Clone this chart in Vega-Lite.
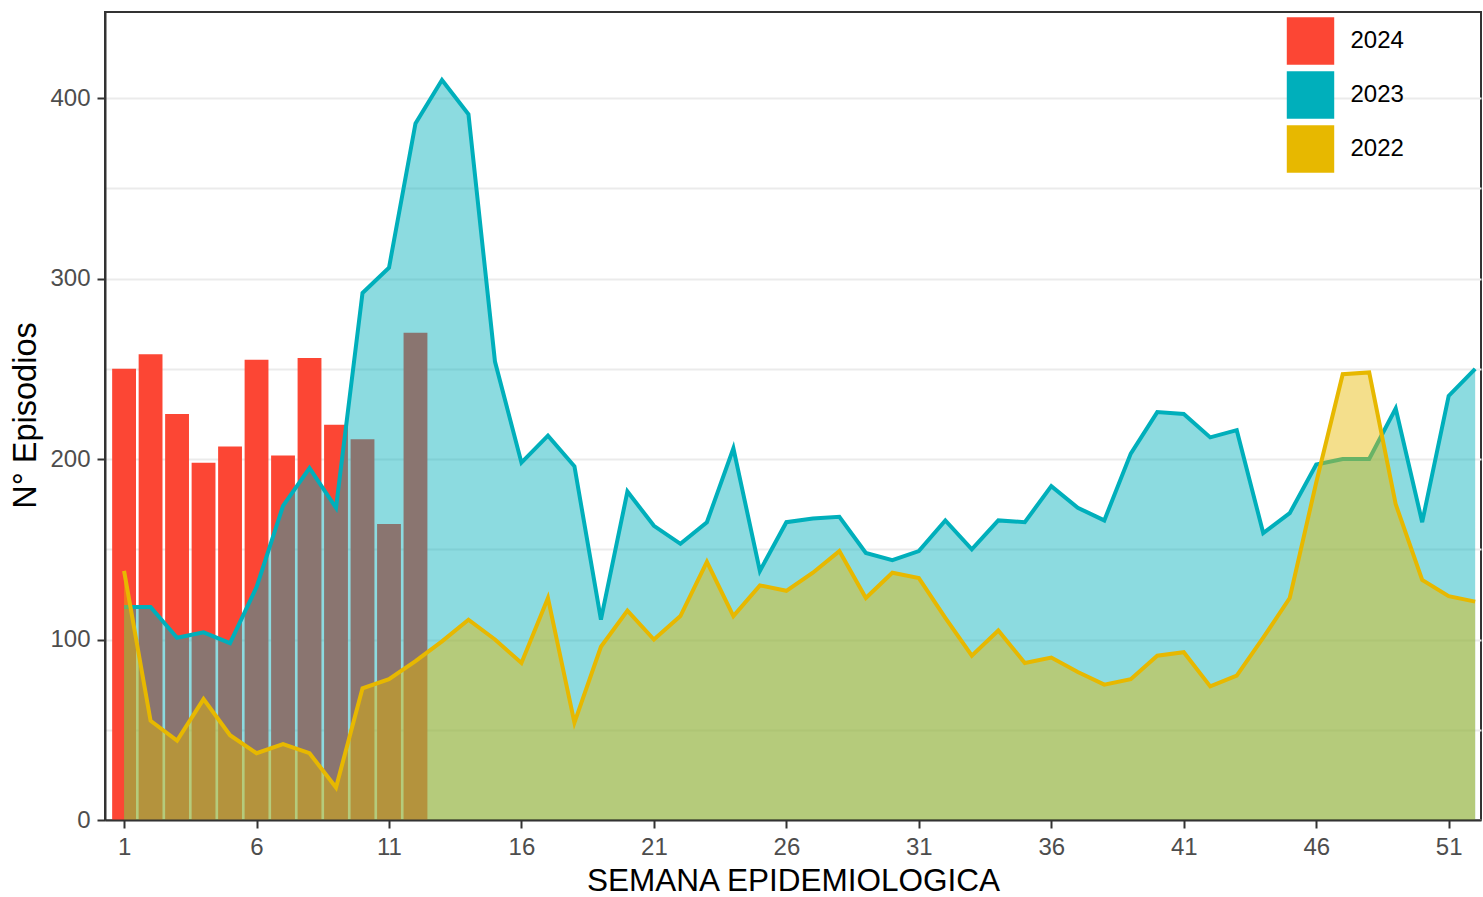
{
  "$schema": "https://vega.github.io/schema/vega-lite/v6.json",
  "width": 1376,
  "height": 808,
  "autosize": {"type": "none"},
  "padding": {"left": 105, "top": 12, "right": 2, "bottom": 77},
  "background": "white",
  "config": {
    "font": "Liberation Sans",
    "view": {"stroke": "#333333", "strokeWidth": 2},
    "axis": {
      "domainColor": "#333333", "domainWidth": 2,
      "tickColor": "#333333", "tickWidth": 2, "tickSize": 8,
      "labelFont": "Liberation Sans", "labelFontSize": 24, "labelColor": "#4D4D4D",
      "titleFont": "Liberation Sans", "titleFontSize": 31.5, "titleColor": "#000000", "titleFontWeight": "normal",
      "grid": false, "labelOverlap": false, "labelFlush": false
    },
    "legend": {
      "padding": 0,
      "symbolType": "square", "symbolSize": 2250, "symbolStrokeWidth": 0, "symbolOpacity": 1,
      "rowPadding": 6, "labelOffset": 16, "labelFont": "Liberation Sans", "labelFontSize": 24, "labelColor": "#000000"
    }
  },
  "data": {"values": [
    {"semana": 1, "anio": "2024", "episodios": 250},
    {"semana": 2, "anio": "2024", "episodios": 258},
    {"semana": 3, "anio": "2024", "episodios": 225},
    {"semana": 4, "anio": "2024", "episodios": 198},
    {"semana": 5, "anio": "2024", "episodios": 207},
    {"semana": 6, "anio": "2024", "episodios": 255},
    {"semana": 7, "anio": "2024", "episodios": 202},
    {"semana": 8, "anio": "2024", "episodios": 256},
    {"semana": 9, "anio": "2024", "episodios": 219},
    {"semana": 10, "anio": "2024", "episodios": 211},
    {"semana": 11, "anio": "2024", "episodios": 164},
    {"semana": 12, "anio": "2024", "episodios": 270},
    {"semana": 1, "anio": "2023", "episodios": 118},
    {"semana": 2, "anio": "2023", "episodios": 118},
    {"semana": 3, "anio": "2023", "episodios": 101},
    {"semana": 4, "anio": "2023", "episodios": 104},
    {"semana": 5, "anio": "2023", "episodios": 98},
    {"semana": 6, "anio": "2023", "episodios": 129},
    {"semana": 7, "anio": "2023", "episodios": 174},
    {"semana": 8, "anio": "2023", "episodios": 195},
    {"semana": 9, "anio": "2023", "episodios": 173},
    {"semana": 10, "anio": "2023", "episodios": 292},
    {"semana": 11, "anio": "2023", "episodios": 306},
    {"semana": 12, "anio": "2023", "episodios": 386},
    {"semana": 13, "anio": "2023", "episodios": 410},
    {"semana": 14, "anio": "2023", "episodios": 391},
    {"semana": 15, "anio": "2023", "episodios": 254},
    {"semana": 16, "anio": "2023", "episodios": 198},
    {"semana": 17, "anio": "2023", "episodios": 213},
    {"semana": 18, "anio": "2023", "episodios": 196},
    {"semana": 19, "anio": "2023", "episodios": 111},
    {"semana": 20, "anio": "2023", "episodios": 182},
    {"semana": 21, "anio": "2023", "episodios": 163},
    {"semana": 22, "anio": "2023", "episodios": 153},
    {"semana": 23, "anio": "2023", "episodios": 165},
    {"semana": 24, "anio": "2023", "episodios": 206},
    {"semana": 25, "anio": "2023", "episodios": 138},
    {"semana": 26, "anio": "2023", "episodios": 165},
    {"semana": 27, "anio": "2023", "episodios": 167},
    {"semana": 28, "anio": "2023", "episodios": 168},
    {"semana": 29, "anio": "2023", "episodios": 148},
    {"semana": 30, "anio": "2023", "episodios": 144},
    {"semana": 31, "anio": "2023", "episodios": 149},
    {"semana": 32, "anio": "2023", "episodios": 166},
    {"semana": 33, "anio": "2023", "episodios": 150},
    {"semana": 34, "anio": "2023", "episodios": 166},
    {"semana": 35, "anio": "2023", "episodios": 165},
    {"semana": 36, "anio": "2023", "episodios": 185},
    {"semana": 37, "anio": "2023", "episodios": 173},
    {"semana": 38, "anio": "2023", "episodios": 166},
    {"semana": 39, "anio": "2023", "episodios": 203},
    {"semana": 40, "anio": "2023", "episodios": 226},
    {"semana": 41, "anio": "2023", "episodios": 225},
    {"semana": 42, "anio": "2023", "episodios": 212},
    {"semana": 43, "anio": "2023", "episodios": 216},
    {"semana": 44, "anio": "2023", "episodios": 159},
    {"semana": 45, "anio": "2023", "episodios": 170},
    {"semana": 46, "anio": "2023", "episodios": 197},
    {"semana": 47, "anio": "2023", "episodios": 200},
    {"semana": 48, "anio": "2023", "episodios": 200},
    {"semana": 49, "anio": "2023", "episodios": 228},
    {"semana": 50, "anio": "2023", "episodios": 165},
    {"semana": 51, "anio": "2023", "episodios": 235},
    {"semana": 52, "anio": "2023", "episodios": 250},
    {"semana": 1, "anio": "2022", "episodios": 138},
    {"semana": 2, "anio": "2022", "episodios": 55},
    {"semana": 3, "anio": "2022", "episodios": 44},
    {"semana": 4, "anio": "2022", "episodios": 67},
    {"semana": 5, "anio": "2022", "episodios": 47},
    {"semana": 6, "anio": "2022", "episodios": 37},
    {"semana": 7, "anio": "2022", "episodios": 42},
    {"semana": 8, "anio": "2022", "episodios": 37},
    {"semana": 9, "anio": "2022", "episodios": 18},
    {"semana": 10, "anio": "2022", "episodios": 73},
    {"semana": 11, "anio": "2022", "episodios": 78},
    {"semana": 12, "anio": "2022", "episodios": 88},
    {"semana": 13, "anio": "2022", "episodios": 99},
    {"semana": 14, "anio": "2022", "episodios": 111},
    {"semana": 15, "anio": "2022", "episodios": 100},
    {"semana": 16, "anio": "2022", "episodios": 87},
    {"semana": 17, "anio": "2022", "episodios": 123},
    {"semana": 18, "anio": "2022", "episodios": 54},
    {"semana": 19, "anio": "2022", "episodios": 96},
    {"semana": 20, "anio": "2022", "episodios": 116},
    {"semana": 21, "anio": "2022", "episodios": 100},
    {"semana": 22, "anio": "2022", "episodios": 113},
    {"semana": 23, "anio": "2022", "episodios": 143},
    {"semana": 24, "anio": "2022", "episodios": 113},
    {"semana": 25, "anio": "2022", "episodios": 130},
    {"semana": 26, "anio": "2022", "episodios": 127},
    {"semana": 27, "anio": "2022", "episodios": 137},
    {"semana": 28, "anio": "2022", "episodios": 149},
    {"semana": 29, "anio": "2022", "episodios": 123},
    {"semana": 30, "anio": "2022", "episodios": 137},
    {"semana": 31, "anio": "2022", "episodios": 134},
    {"semana": 32, "anio": "2022", "episodios": 112},
    {"semana": 33, "anio": "2022", "episodios": 91},
    {"semana": 34, "anio": "2022", "episodios": 105},
    {"semana": 35, "anio": "2022", "episodios": 87},
    {"semana": 36, "anio": "2022", "episodios": 90},
    {"semana": 37, "anio": "2022", "episodios": 82},
    {"semana": 38, "anio": "2022", "episodios": 75},
    {"semana": 39, "anio": "2022", "episodios": 78},
    {"semana": 40, "anio": "2022", "episodios": 91},
    {"semana": 41, "anio": "2022", "episodios": 93},
    {"semana": 42, "anio": "2022", "episodios": 74},
    {"semana": 43, "anio": "2022", "episodios": 80},
    {"semana": 44, "anio": "2022", "episodios": 101},
    {"semana": 45, "anio": "2022", "episodios": 123},
    {"semana": 46, "anio": "2022", "episodios": 187},
    {"semana": 47, "anio": "2022", "episodios": 247},
    {"semana": 48, "anio": "2022", "episodios": 248},
    {"semana": 49, "anio": "2022", "episodios": 175},
    {"semana": 50, "anio": "2022", "episodios": 133},
    {"semana": 51, "anio": "2022", "episodios": 124},
    {"semana": 52, "anio": "2022", "episodios": 121}
  ]},
  "encoding": {
    "x": {"field": "semana", "type": "quantitative", "scale": {"domain": [0.28, 52.22], "nice": false, "zero": false, "padding": 0}, "axis": null},
    "y": {"field": "episodios", "type": "quantitative", "scale": {"domain": [0, 447.7], "nice": false, "padding": 0}, "axis": null}
  },
  "layer": [
    {
      "transform": [{"filter": "datum.anio == '2024'"}],
      "mark": {"type": "bar", "width": 23.85},
      "encoding": {
        "y": {"field": "episodios", "type": "quantitative", "scale": {"domain": [0, 447.7], "nice": false, "padding": 0},
              "axis": {"orient": "right", "grid": true, "gridColor": "#EBEBEB", "gridWidth": 2,
                       "values": [0, 50, 100, 150, 200, 250, 300, 350, 400],
                       "domain": false, "ticks": false, "labels": false, "title": null, "zindex": 0}},
        "fill": {"field": "anio", "type": "nominal",
                 "scale": {"domain": ["2024", "2023", "2022"], "range": ["#FC4634", "#00AFBB", "#E7B800"]},
                 "legend": {"title": null, "orient": "none", "legendX": 1181.5, "legendY": 5}}
      }
    },
    {
      "transform": [{"filter": "datum.anio == '2023'"}],
      "mark": {"type": "area", "fillOpacity": 0.45},
      "encoding": {
        "fill": {"field": "anio", "type": "nominal",
                 "scale": {"domain": ["2024", "2023", "2022"], "range": ["#FC4634", "#00AFBB", "#E7B800"]},
                 "legend": {"title": null, "orient": "none", "legendX": 1181.5, "legendY": 5}}
      }
    },
    {
      "transform": [{"filter": "datum.anio == '2023'"}],
      "mark": {"type": "line", "strokeWidth": 4},
      "encoding": {
        "stroke": {"field": "anio", "type": "nominal", "legend": null,
                   "scale": {"domain": ["2024", "2023", "2022"], "range": ["#FC4634", "#00AFBB", "#E7B800"]}}
      }
    },
    {
      "transform": [{"filter": "datum.anio == '2022'"}],
      "mark": {"type": "area", "fillOpacity": 0.45},
      "encoding": {
        "fill": {"field": "anio", "type": "nominal",
                 "scale": {"domain": ["2024", "2023", "2022"], "range": ["#FC4634", "#00AFBB", "#E7B800"]},
                 "legend": {"title": null, "orient": "none", "legendX": 1181.5, "legendY": 5}}
      }
    },
    {
      "transform": [{"filter": "datum.anio == '2022'"}],
      "mark": {"type": "line", "strokeWidth": 4},
      "encoding": {
        "x": {"field": "semana", "type": "quantitative", "scale": {"domain": [0.28, 52.22], "nice": false, "zero": false, "padding": 0},
              "axis": {"values": [1, 6, 11, 16, 21, 26, 31, 36, 41, 46, 51], "labelPadding": 26, "labelBaseline": "alphabetic",
                       "title": "SEMANA EPIDEMIOLOGICA", "titleY": 70, "titleBaseline": "alphabetic", "zindex": 1}},
        "y": {"field": "episodios", "type": "quantitative", "scale": {"domain": [0, 447.7], "nice": false, "padding": 0},
              "axis": {"orient": "left", "values": [0, 100, 200, 300, 400], "labelPadding": 7,
                       "title": "N° Episodios", "titleX": -80, "titleY": 403, "titleAngle": -90, "titleFontSize": 32.5,
                       "titleBaseline": "middle", "titleAlign": "center", "zindex": 1}},
        "stroke": {"field": "anio", "type": "nominal", "legend": null,
                   "scale": {"domain": ["2024", "2023", "2022"], "range": ["#FC4634", "#00AFBB", "#E7B800"]}}
      }
    }
  ],
  "resolve": {"axis": {"x": "independent", "y": "independent"}}
}
